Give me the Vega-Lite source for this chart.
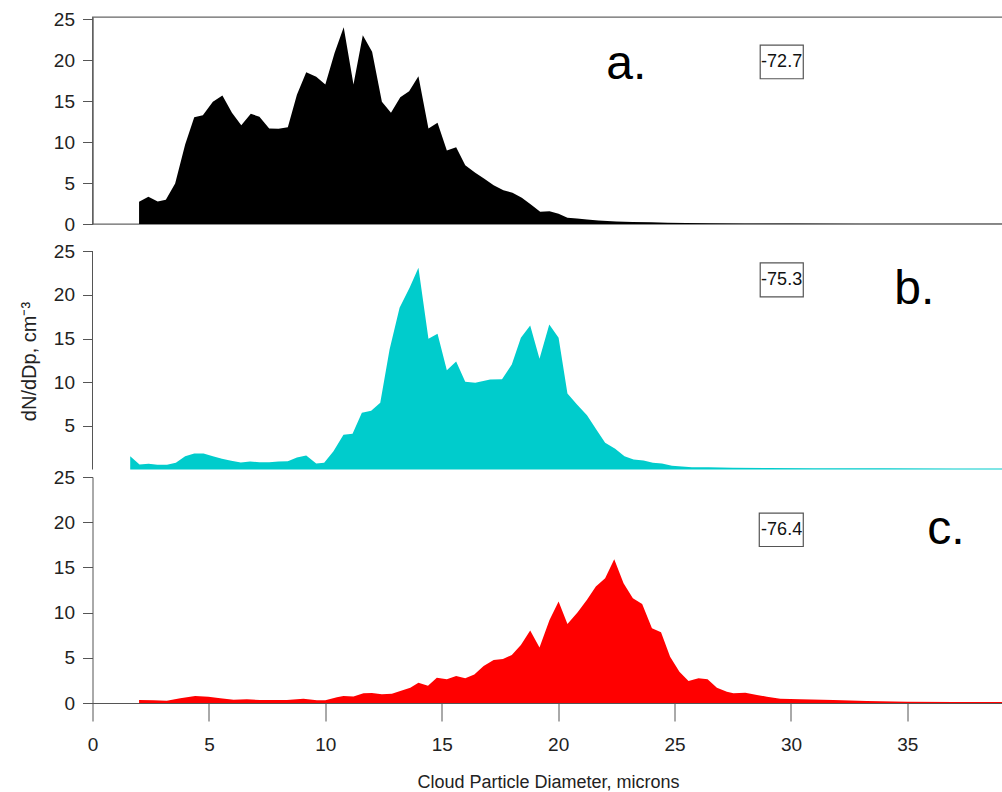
{
  "$schema": "https://vega.github.io/schema/vega-lite/v6.json",
  "background": "white",
  "autosize": {"type": "pad"},
  "padding": {"left": 18.5, "top": 9, "right": 0, "bottom": 0},
  "spacing": 7,
  "bounds": "flush",
  "config": {
    "view": {"stroke": null},
    "axis": {
      "grid": false,
      "domainColor": "#555555",
      "tickColor": "#555555",
      "labelColor": "#222222",
      "labelFont": "Liberation Sans, Arial, sans-serif",
      "labelFontSize": 19,
      "labelFlush": false,
      "titleFont": "Liberation Sans, Arial, sans-serif",
      "titleFontWeight": "normal",
      "titleColor": "#222222",
      "tickSize": 10,
      "labelPadding": 8
    }
  },
  "datasets": {
    "a": [
      {"d": 2.0, "n": 2.71}, {"d": 2.4, "n": 3.33}, {"d": 2.8, "n": 2.75}, {"d": 3.15, "n": 2.96}, {"d": 3.55, "n": 4.95},
      {"d": 3.98, "n": 9.72}, {"d": 4.37, "n": 13.06}, {"d": 4.74, "n": 13.3}, {"d": 5.17, "n": 14.94}, {"d": 5.58, "n": 15.7},
      {"d": 5.99, "n": 13.6}, {"d": 6.39, "n": 12.08}, {"d": 6.8, "n": 13.47}, {"d": 7.17, "n": 13.1}, {"d": 7.59, "n": 11.67},
      {"d": 7.99, "n": 11.63}, {"d": 8.39, "n": 11.84}, {"d": 8.78, "n": 15.8}, {"d": 9.18, "n": 18.56}, {"d": 9.61, "n": 17.99},
      {"d": 10.0, "n": 17.05}, {"d": 10.4, "n": 20.93}, {"d": 10.79, "n": 24.06}, {"d": 11.21, "n": 17.05}, {"d": 11.61, "n": 23.08},
      {"d": 12.01, "n": 21.05}, {"d": 12.43, "n": 14.94}, {"d": 12.82, "n": 13.6}, {"d": 13.22, "n": 15.5}, {"d": 13.6, "n": 16.24},
      {"d": 14.0, "n": 18.07}, {"d": 14.43, "n": 11.67}, {"d": 14.82, "n": 12.37}, {"d": 15.22, "n": 8.99}, {"d": 15.62, "n": 9.39},
      {"d": 16.01, "n": 7.19}, {"d": 16.44, "n": 6.26}, {"d": 16.83, "n": 5.52}, {"d": 17.23, "n": 4.74}, {"d": 17.65, "n": 4.13},
      {"d": 18.04, "n": 3.81}, {"d": 18.44, "n": 3.2}, {"d": 18.83, "n": 2.38}, {"d": 19.23, "n": 1.49}, {"d": 19.63, "n": 1.56},
      {"d": 20.02, "n": 1.25}, {"d": 20.4, "n": 0.76}, {"d": 20.81, "n": 0.67}, {"d": 21.24, "n": 0.55}, {"d": 21.73, "n": 0.43},
      {"d": 22.5, "n": 0.32}, {"d": 23.2, "n": 0.25}, {"d": 24.0, "n": 0.2}, {"d": 24.7, "n": 0.16}, {"d": 25.5, "n": 0.12},
      {"d": 26.5, "n": 0.09}, {"d": 28.0, "n": 0.07}, {"d": 30.0, "n": 0.05}, {"d": 33.0, "n": 0.04}, {"d": 36.0, "n": 0.03},
      {"d": 39.13, "n": 0.03}
    ],
    "b": [
      {"d": 1.62, "n": 1.53}, {"d": 2.02, "n": 0.57}, {"d": 2.41, "n": 0.65}, {"d": 2.79, "n": 0.53}, {"d": 3.2, "n": 0.53},
      {"d": 3.58, "n": 0.76}, {"d": 3.98, "n": 1.53}, {"d": 4.37, "n": 1.83}, {"d": 4.77, "n": 1.83}, {"d": 5.17, "n": 1.53},
      {"d": 5.56, "n": 1.22}, {"d": 5.96, "n": 0.99}, {"d": 6.37, "n": 0.8}, {"d": 6.77, "n": 0.92}, {"d": 7.17, "n": 0.84},
      {"d": 7.59, "n": 0.84}, {"d": 7.99, "n": 0.92}, {"d": 8.39, "n": 0.95}, {"d": 8.78, "n": 1.37}, {"d": 9.18, "n": 1.6},
      {"d": 9.61, "n": 0.69}, {"d": 9.95, "n": 0.76}, {"d": 10.35, "n": 2.1}, {"d": 10.78, "n": 3.97}, {"d": 11.17, "n": 4.09},
      {"d": 11.57, "n": 6.49}, {"d": 11.97, "n": 6.72}, {"d": 12.36, "n": 7.64}, {"d": 12.76, "n": 13.75}, {"d": 13.19, "n": 18.52},
      {"d": 13.62, "n": 20.81}, {"d": 14.0, "n": 23.1}, {"d": 14.43, "n": 14.97}, {"d": 14.82, "n": 15.54}, {"d": 15.22, "n": 11.38},
      {"d": 15.62, "n": 12.37}, {"d": 16.01, "n": 10.04}, {"d": 16.44, "n": 9.93}, {"d": 17.08, "n": 10.31}, {"d": 17.59, "n": 10.35},
      {"d": 18.01, "n": 12.03}, {"d": 18.4, "n": 15.08}, {"d": 18.8, "n": 16.49}, {"d": 19.2, "n": 12.68}, {"d": 19.62, "n": 16.61},
      {"d": 20.02, "n": 15.08}, {"d": 20.4, "n": 8.71}, {"d": 20.81, "n": 7.45}, {"d": 21.24, "n": 6.22}, {"d": 21.64, "n": 4.58},
      {"d": 22.02, "n": 3.05}, {"d": 22.45, "n": 2.37}, {"d": 22.85, "n": 1.53}, {"d": 23.24, "n": 1.15}, {"d": 23.67, "n": 1.03},
      {"d": 24.07, "n": 0.76}, {"d": 24.46, "n": 0.69}, {"d": 24.89, "n": 0.42}, {"d": 25.32, "n": 0.34}, {"d": 25.75, "n": 0.27},
      {"d": 26.46, "n": 0.27}, {"d": 27.5, "n": 0.2}, {"d": 29.0, "n": 0.17}, {"d": 31.0, "n": 0.15}, {"d": 34.0, "n": 0.13},
      {"d": 37.0, "n": 0.12}, {"d": 39.13, "n": 0.12}
    ],
    "c": [
      {"d": 2.0, "n": 0.33}, {"d": 2.62, "n": 0.3}, {"d": 3.19, "n": 0.26}, {"d": 3.77, "n": 0.52}, {"d": 4.41, "n": 0.78},
      {"d": 4.98, "n": 0.7}, {"d": 5.49, "n": 0.52}, {"d": 6.06, "n": 0.37}, {"d": 6.63, "n": 0.41}, {"d": 7.2, "n": 0.33},
      {"d": 7.78, "n": 0.33}, {"d": 8.35, "n": 0.33}, {"d": 9.06, "n": 0.48}, {"d": 9.64, "n": 0.3}, {"d": 10.0, "n": 0.3},
      {"d": 10.5, "n": 0.63}, {"d": 10.78, "n": 0.78}, {"d": 11.21, "n": 0.72}, {"d": 11.64, "n": 1.07}, {"d": 12.0, "n": 1.1},
      {"d": 12.43, "n": 0.96}, {"d": 12.86, "n": 1.03}, {"d": 13.22, "n": 1.33}, {"d": 13.65, "n": 1.7}, {"d": 14.0, "n": 2.25},
      {"d": 14.41, "n": 1.92}, {"d": 14.79, "n": 2.8}, {"d": 15.22, "n": 2.62}, {"d": 15.62, "n": 2.99}, {"d": 16.01, "n": 2.73},
      {"d": 16.4, "n": 3.14}, {"d": 16.8, "n": 4.1}, {"d": 17.23, "n": 4.76}, {"d": 17.63, "n": 4.87}, {"d": 18.01, "n": 5.32},
      {"d": 18.4, "n": 6.42}, {"d": 18.8, "n": 8.01}, {"d": 19.2, "n": 6.13}, {"d": 19.63, "n": 9.19}, {"d": 20.02, "n": 11.22},
      {"d": 20.4, "n": 8.75}, {"d": 20.83, "n": 10.0}, {"d": 21.24, "n": 11.41}, {"d": 21.62, "n": 12.88}, {"d": 22.02, "n": 13.81},
      {"d": 22.41, "n": 15.91}, {"d": 22.81, "n": 13.26}, {"d": 23.21, "n": 11.59}, {"d": 23.61, "n": 10.96}, {"d": 24.03, "n": 8.27},
      {"d": 24.42, "n": 7.83}, {"d": 24.81, "n": 5.13}, {"d": 25.21, "n": 3.47}, {"d": 25.6, "n": 2.44}, {"d": 26.03, "n": 2.73},
      {"d": 26.42, "n": 2.62}, {"d": 26.82, "n": 1.7}, {"d": 27.25, "n": 1.25}, {"d": 27.53, "n": 1.07}, {"d": 28.04, "n": 1.14},
      {"d": 28.54, "n": 0.89}, {"d": 28.97, "n": 0.7}, {"d": 29.54, "n": 0.48}, {"d": 30.4, "n": 0.42}, {"d": 31.83, "n": 0.33},
      {"d": 33.26, "n": 0.22}, {"d": 35.0, "n": 0.15}, {"d": 37.0, "n": 0.12}, {"d": 39.13, "n": 0.12}
    ]
  },
  "vconcat": [
    {
      "width": 911,
      "height": 207,
      "view": {"stroke": "#666666", "strokeWidth": 1.3},
      "layer": [
        {
          "data": {"name": "a"},
          "mark": {"type": "area", "color": "#000000"},
          "encoding": {
            "x": {"field": "d", "type": "quantitative", "scale": {"domain": [0, 39.13], "nice": false, "zero": false}, "axis": null},
            "y": {"field": "n", "type": "quantitative", "scale": {"domain": [0, 25.3], "nice": false}, "axis": {"values": [0, 5, 10, 15, 20, 25], "title": null}}
          }
        },
        {
          "data": {"values": [{"label": "-72.7"}]},
          "mark": {"type": "rect", "fill": "white", "stroke": "#555555", "strokeWidth": 1.2},
          "encoding": {
            "x": {"datum": 28.68, "axis": null}, "x2": {"datum": 30.53},
            "y": {"datum": 21.86, "axis": {"values": [0, 5, 10, 15, 20, 25], "title": null}}, "y2": {"datum": 17.75}
          }
        },
        {
          "data": {"values": [{"label": "-72.7"}]},
          "mark": {"type": "text", "font": "Liberation Sans, Arial, sans-serif", "fontSize": 18, "align": "center", "baseline": "middle", "color": "#111111"},
          "encoding": {
            "x": {"datum": 29.6, "axis": null}, "y": {"datum": 19.8, "axis": {"values": [0, 5, 10, 15, 20, 25], "title": null}},
            "text": {"field": "label"}
          }
        },
        {
          "data": {"values": [{"label": "a."}]},
          "mark": {"type": "text", "font": "Liberation Sans, Arial, sans-serif", "fontSize": 48, "align": "left", "baseline": "alphabetic", "color": "#000000"},
          "encoding": {
            "x": {"datum": 22.07, "axis": null}, "y": {"datum": 17.7, "axis": {"values": [0, 5, 10, 15, 20, 25], "title": null}},
            "text": {"field": "label"}
          }
        }
      ]
    },
    {
      "width": 911,
      "height": 238.5,
      "layer": [
        {
          "data": {"name": "b"},
          "mark": {"type": "area", "color": "#00CCCC"},
          "encoding": {
            "x": {"field": "d", "type": "quantitative", "scale": {"domain": [0, 39.13], "nice": false, "zero": false}, "axis": null},
            "y": {"field": "n", "type": "quantitative", "scale": {"domain": [0, 27.32], "nice": false}, "axis": {"values": [5, 10, 15, 20, 25], "domain": false, "title": "dN/dDp, cm⁻³", "titleFontSize": 20, "titlePadding": 14, "titleY": 130}}
          }
        },
        {
          "data": {"values": [{"label": "axis"}]},
          "mark": {"type": "rule", "color": "#555555", "strokeWidth": 1},
          "encoding": {
            "x": {"datum": 0, "axis": null},
            "y": {"datum": 0, "axis": {"values": [5, 10, 15, 20, 25], "domain": false, "title": "dN/dDp, cm⁻³", "titleFontSize": 20, "titlePadding": 14, "titleY": 130}}, "y2": {"datum": 25}
          }
        },
        {
          "data": {"values": [{"label": "-75.3"}]},
          "mark": {"type": "rect", "fill": "white", "stroke": "#555555", "strokeWidth": 1.2},
          "encoding": {
            "x": {"datum": 28.68, "axis": null}, "x2": {"datum": 30.53},
            "y": {"datum": 23.68, "axis": {"values": [5, 10, 15, 20, 25], "domain": false, "title": "dN/dDp, cm⁻³", "titleFontSize": 20, "titlePadding": 14, "titleY": 130}}, "y2": {"datum": 19.78}
          }
        },
        {
          "data": {"values": [{"label": "-75.3"}]},
          "mark": {"type": "text", "font": "Liberation Sans, Arial, sans-serif", "fontSize": 18, "align": "center", "baseline": "middle", "color": "#111111"},
          "encoding": {
            "x": {"datum": 29.6, "axis": null}, "y": {"datum": 21.73, "axis": {"values": [5, 10, 15, 20, 25], "domain": false, "title": "dN/dDp, cm⁻³", "titleFontSize": 20, "titlePadding": 14, "titleY": 130}},
            "text": {"field": "label"}
          }
        },
        {
          "data": {"values": [{"label": "b."}]},
          "mark": {"type": "text", "font": "Liberation Sans, Arial, sans-serif", "fontSize": 48, "align": "left", "baseline": "alphabetic", "color": "#000000"},
          "encoding": {
            "x": {"datum": 34.44, "axis": null}, "y": {"datum": 19.0, "axis": {"values": [5, 10, 15, 20, 25], "domain": false, "title": "dN/dDp, cm⁻³", "titleFontSize": 20, "titlePadding": 14, "titleY": 130}},
            "text": {"field": "label"}
          }
        }
      ]
    },
    {
      "width": 911,
      "height": 226,
      "layer": [
        {
          "data": {"name": "c"},
          "mark": {"type": "area", "color": "#FF0000"},
          "encoding": {
            "x": {"field": "d", "type": "quantitative", "scale": {"domain": [0, 39.13], "nice": false, "zero": false}, "axis": {"values": [0, 5, 10, 15, 20, 25, 30, 35], "tickSize": 18, "labelPadding": 14, "title": "Cloud Particle Diameter, microns", "titleFontSize": 18, "titlePadding": 19}},
            "y": {"field": "n", "type": "quantitative", "scale": {"domain": [0, 25], "nice": false}, "axis": {"values": [0, 5, 10, 15, 20, 25], "title": null}}
          }
        },
        {
          "data": {"values": [{"label": "-76.4"}]},
          "mark": {"type": "rect", "fill": "white", "stroke": "#555555", "strokeWidth": 1.2},
          "encoding": {
            "x": {"datum": 28.64, "axis": {"values": [0, 5, 10, 15, 20, 25, 30, 35], "tickSize": 18, "labelPadding": 14, "title": "Cloud Particle Diameter, microns", "titleFontSize": 18, "titlePadding": 19}}, "x2": {"datum": 30.53},
            "y": {"datum": 21.0, "axis": {"values": [0, 5, 10, 15, 20, 25], "title": null}}, "y2": {"datum": 17.31}
          }
        },
        {
          "data": {"values": [{"label": "-76.4"}]},
          "mark": {"type": "text", "font": "Liberation Sans, Arial, sans-serif", "fontSize": 18, "align": "center", "baseline": "middle", "color": "#111111"},
          "encoding": {
            "x": {"datum": 29.6, "axis": {"values": [0, 5, 10, 15, 20, 25, 30, 35], "tickSize": 18, "labelPadding": 14, "title": "Cloud Particle Diameter, microns", "titleFontSize": 18, "titlePadding": 19}},
            "y": {"datum": 19.16, "axis": {"values": [0, 5, 10, 15, 20, 25], "title": null}},
            "text": {"field": "label"}
          }
        },
        {
          "data": {"values": [{"label": "c."}]},
          "mark": {"type": "text", "font": "Liberation Sans, Arial, sans-serif", "fontSize": 48, "align": "left", "baseline": "alphabetic", "color": "#000000"},
          "encoding": {
            "x": {"datum": 35.85, "axis": {"values": [0, 5, 10, 15, 20, 25, 30, 35], "tickSize": 18, "labelPadding": 14, "title": "Cloud Particle Diameter, microns", "titleFontSize": 18, "titlePadding": 19}},
            "y": {"datum": 17.6, "axis": {"values": [0, 5, 10, 15, 20, 25], "title": null}},
            "text": {"field": "label"}
          }
        }
      ]
    }
  ]
}
